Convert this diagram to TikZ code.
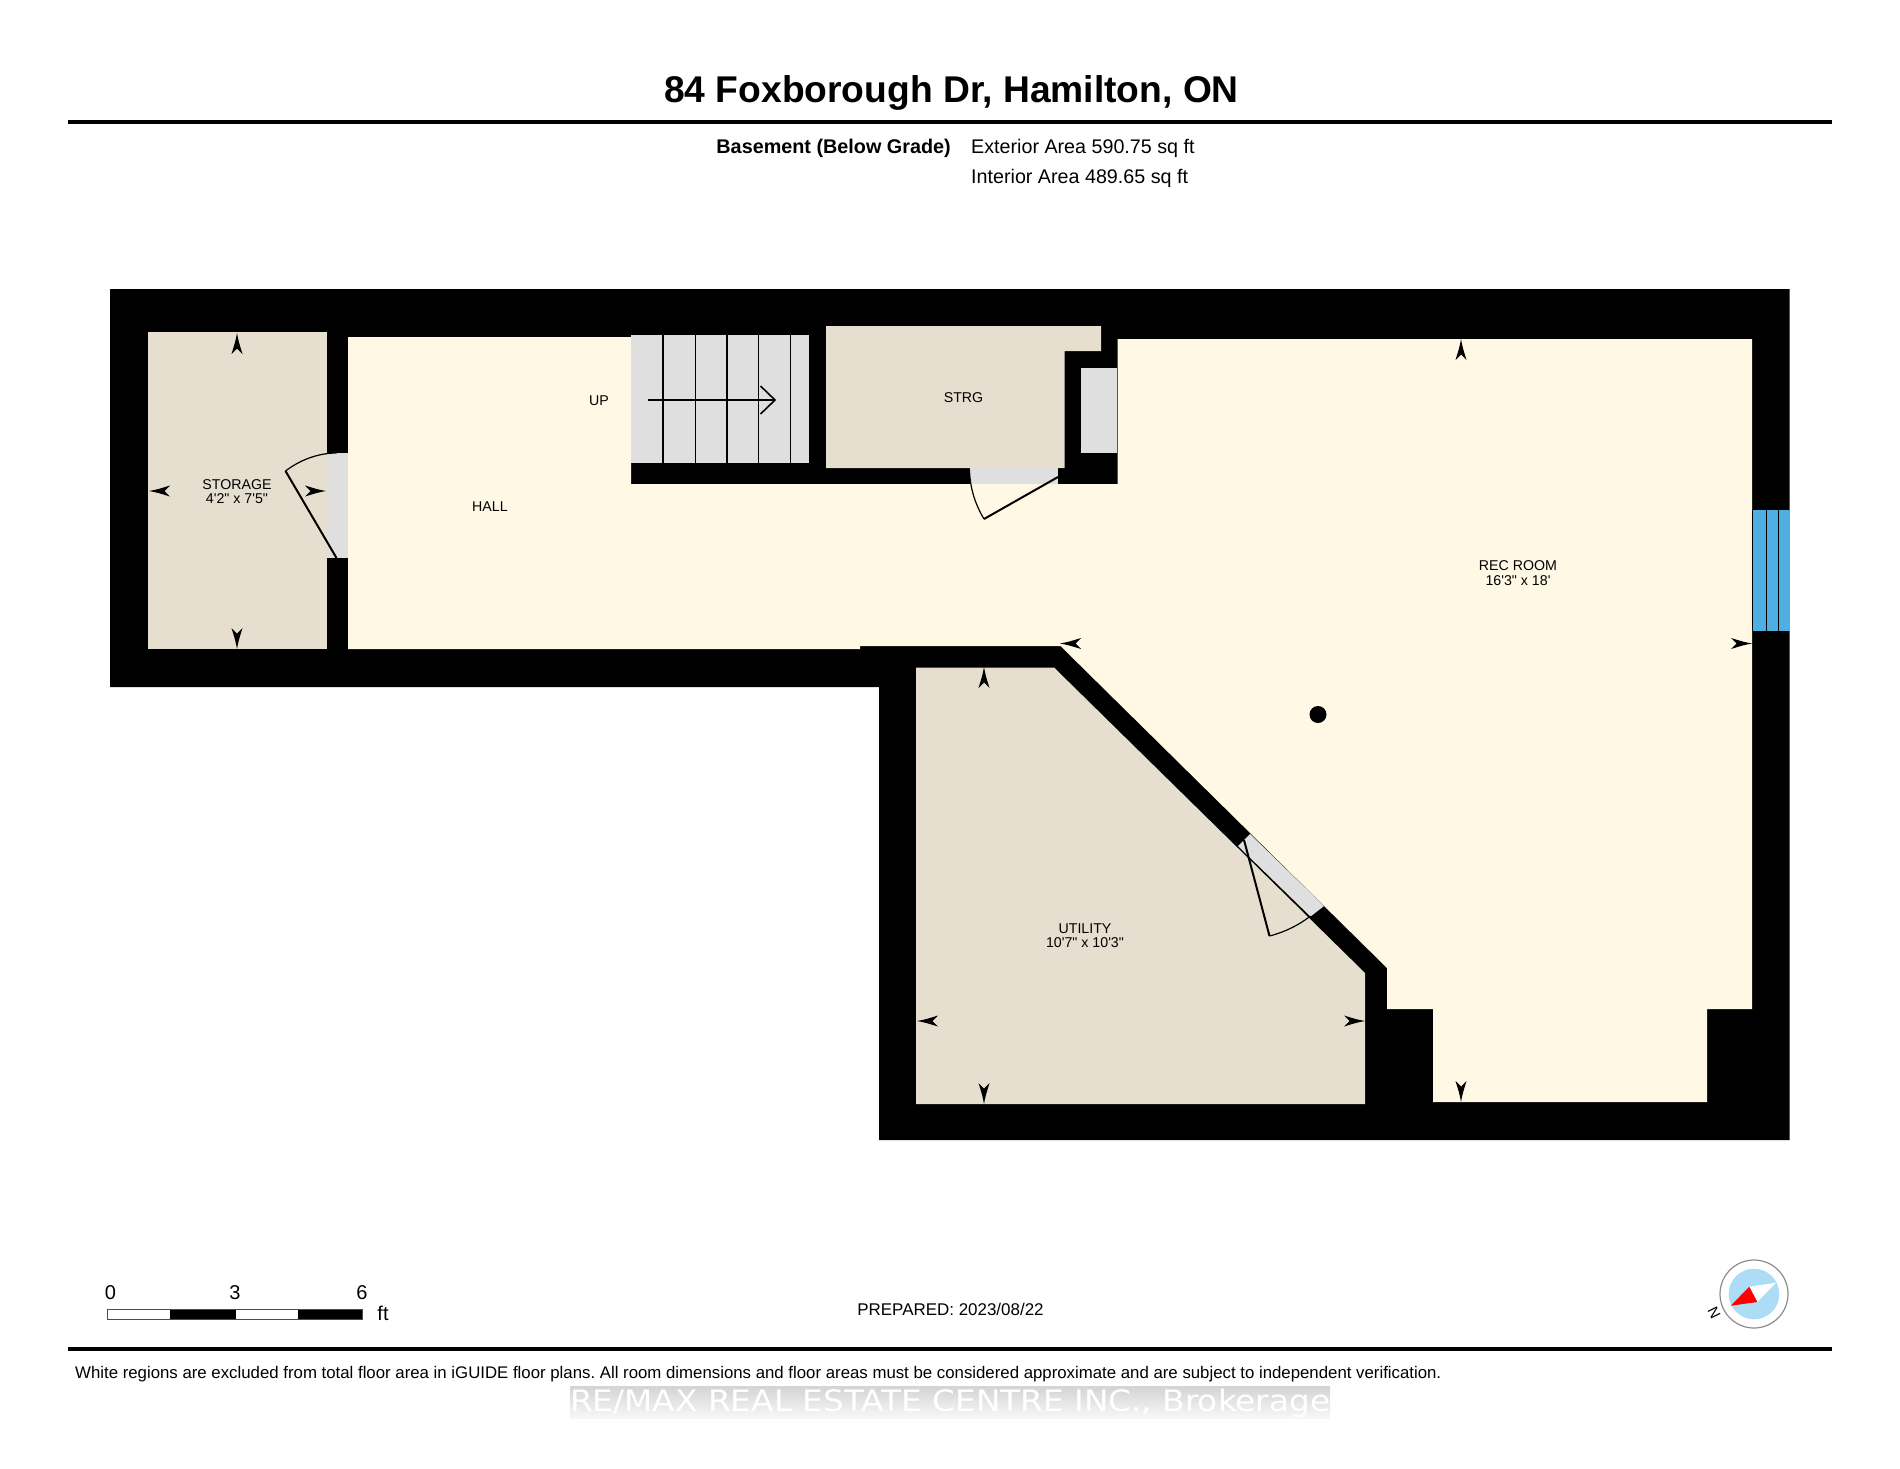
\documentclass[tikz,border=0pt]{standalone}
\usepackage{fontspec}
\setmainfont{Liberation Sans}
\newfontfamily\lblfont{Liberation Sans}
\newfontfamily\wmfont{DejaVu Sans}[FakeStretch=1.11]
\usepackage{xcolor}
\usetikzlibrary{arrows.meta,positioning,calc}
\definecolor{hallcream}{HTML}{FEF8E4}
\definecolor{roomtan}{HTML}{E6DECF}
\definecolor{stairgrey}{HTML}{DFDFDF}
\definecolor{glassblue}{HTML}{4FAEE2}
\definecolor{dialblue}{HTML}{ADDCF7}
\newcommand{\fs}[1]{\fontsize{#1}{#1}\selectfont}
\tikzset{
    dimtick/.pic={\fill[black] (0,0) .. controls (8,-1.5) .. (21,-5.5) -- (15.5,0) -- (21,5.5) .. controls (8,1.5) .. (0,0) -- cycle;}
}
\begin{document}
\frenchspacing
\begin{tikzpicture}[x=1pt, y=-1pt,
    roomlabel/.style={font=\lblfont\fs{14.2}, align=center, inner sep=0pt},
    infotext/.style={font=\fs{19.7}, anchor=west, inner sep=0pt},
    scalenum/.style={font=\fs{20}, inner sep=0pt},
    thickrule/.style={line width=3.6pt, black},
    tread/.style={line width=1.6pt, black},
    leaf/.style={line width=2pt, black},
    swing/.style={line width=1.2pt, black}
]
    \useasboundingbox (0,0) rectangle (1900,1468);

    \node[font=\bfseries\fs{37.2}, inner sep=0pt] (title) at (951.5,93) {84 Foxborough Dr, Hamilton, ON};
    \coordinate (ruletopl) at (68,122); \coordinate (ruletopr) at (1832,122);
    \draw[thickrule] (ruletopl) -- (ruletopr);
    \node[font=\bfseries\fs{19.8}, anchor=east, inner sep=0pt] (floorname) at (951,148.5) {Basement (Below Grade)};
    \node[infotext] (extarea) at (971,148.5) {Exterior Area 590.75 sq ft};
    \node[infotext] (intarea) at (971,178.5) {Interior Area 489.65 sq ft};

    \fill[black] (110,289) -- (1789.5,289) -- (1789.5,1140) -- (879,1140) -- (879,687) -- (110,687) -- cycle;

    \fill[roomtan] (148,332) rectangle (326.5,649);
    \fill[hallcream] (348,337) -- (631,337) -- (631,484) -- (1117.5,484) -- (1117.5,339) -- (1752,339) -- (1752,1009) -- (1707,1009) -- (1707,1102) -- (1433,1102) -- (1433,1009) -- (1387,1009) -- (1387,968) -- (1060.5,646) -- (860,646) -- (860,649) -- (348,649) -- cycle;
    \fill[roomtan] (826,326) -- (1101,326) -- (1101,351) -- (1064.5,351) -- (1064.5,468) -- (826,468) -- cycle;
    \fill[roomtan] (916,667.5) -- (1054,667.5) -- (1365,973) -- (1365,1104) -- (916,1104) -- cycle;

    \fill[stairgrey] (631,335) rectangle (809,463);
    \draw[tread] (663,335) -- (663,463); \draw[tread] (695.5,335) -- (695.5,463); \draw[tread] (727,335) -- (727,463); \draw[tread] (758.5,335) -- (758.5,463); \draw[tread] (790.5,335) -- (790.5,463);
    \draw[line width=2pt] (648,400) -- (775,400);
    \draw[tread] (760.5,386) -- (775,400) -- (760.5,414);

    \fill[stairgrey] (1081,368) rectangle (1117,453);
    \fill[stairgrey] (326.5,453) rectangle (348,558);
    \fill[stairgrey] (969.5,468) rectangle (1058,484);
    \fill[stairgrey] (1250,834) -- (1324,906) -- (1310.5,916.5) -- (1238,846) -- cycle;

    \draw[leaf] (336.5,558) -- (285.5,471);
    \draw[swing] (285.5,471) .. controls (300,460) and (318,453) .. (336.5,453);
    \draw[leaf] (1058,477) -- (984,519);
    \draw[swing] (984,519) .. controls (975,504) and (970,488) .. (969.5,470);
    \draw[leaf] (1244,840) -- (1269.5,936);
    \draw[swing] (1269.5,936) .. controls (1285,932) and (1299,925) .. (1310.5,916);

    \fill[glassblue] (1752,510) rectangle (1789.5,631);
    \draw[line width=1pt] (1752,510) -- (1752,631); \draw[line width=1pt] (1766,510) -- (1766,631); \draw[line width=1pt] (1778,510) -- (1778,631);

    \fill[black] (1318,714.5) circle (8.5);

    \pic[rotate=-90] at (237,333) {dimtick}; \pic[rotate=90] at (237,649) {dimtick}; \pic at (149,491) {dimtick}; \pic[rotate=180] at (326,491) {dimtick};
    \pic[rotate=-90] at (984,667) {dimtick}; \pic[rotate=90] at (984,1104) {dimtick}; \pic at (917,1021) {dimtick}; \pic[rotate=180] at (1365,1021) {dimtick};
    \pic[rotate=-90] at (1461,339) {dimtick}; \pic[rotate=90] at (1461,1102) {dimtick}; \pic at (1060,643.5) {dimtick}; \pic[rotate=180] at (1752,643.5) {dimtick};

    \node[roomlabel] (storage) at (237,491.5) {STORAGE\\4'2" x 7'5"};
    \node[roomlabel] (hall) at (490,507) {HALL};
    \node[roomlabel] (up) at (599,401) {UP};
    \node[roomlabel] (strg) at (963.5,398) {STRG};
    \node[roomlabel] (recroom) at (1518,573) {REC ROOM\\16'3" x 18'};
    \node[roomlabel] (utility) at (1085,935.5) {UTILITY\\10'7" x 10'3"};

    \fill[white] (107,1309) rectangle (170,1319); \fill[black] (170,1309) rectangle (236,1319); \fill[white] (236,1309) rectangle (298,1319); \fill[black] (298,1309) rectangle (362.5,1319);
    \draw[line width=0.8pt, black!70] (107,1309) rectangle (362.5,1319);
    \node[scalenum] (scalezero) at (110.5,1293) {0};
    \node[scalenum] (scalethree) at (235,1293) {3};
    \node[scalenum] (scalesix) at (362,1293) {6};
    \node[scalenum] (scaleft) at (383,1313) {ft};

    \node[font=\fs{16.95}, inner sep=0pt] (prepared) at (950.5,1309) {PREPARED: 2023/08/22};

    \draw[line width=1.2pt, black!45, fill=white] (1754,1294) circle (34);
    \fill[dialblue] (1754,1294) circle (25.3);
    \fill[white] (1749.3,1286.7) -- (1776,1282.7) -- (1757.3,1302) -- cycle;
    \fill[red] (1730.7,1305.7) -- (1749.3,1286.7) -- (1757.3,1302) -- cycle;
    \node[font=\fs{15}, rotate=116, inner sep=0pt] (north) at (1714,1313) {N};

    \coordinate (rulebotl) at (68,1349); \coordinate (rulebotr) at (1832,1349);
    \draw[thickrule] (rulebotl) -- (rulebotr);
    \node[font=\fs{16.8}, anchor=west, inner sep=0pt] (disclaimer) at (75,1374.5) {White regions are excluded from total floor area in iGUIDE floor plans. All room dimensions and floor areas must be considered approximate and are subject to independent verification.};

    \shade[top color=black!17, middle color=black!13, bottom color=black!3] (570,1386) rectangle (1330,1418);
    \node[font=\wmfont\fs{29.5}, text=white, inner sep=0pt, anchor=base west] (watermark) at (570,1411) {RE/MAX REAL ESTATE CENTRE INC., Brokerage};
\end{tikzpicture}
\end{document}
